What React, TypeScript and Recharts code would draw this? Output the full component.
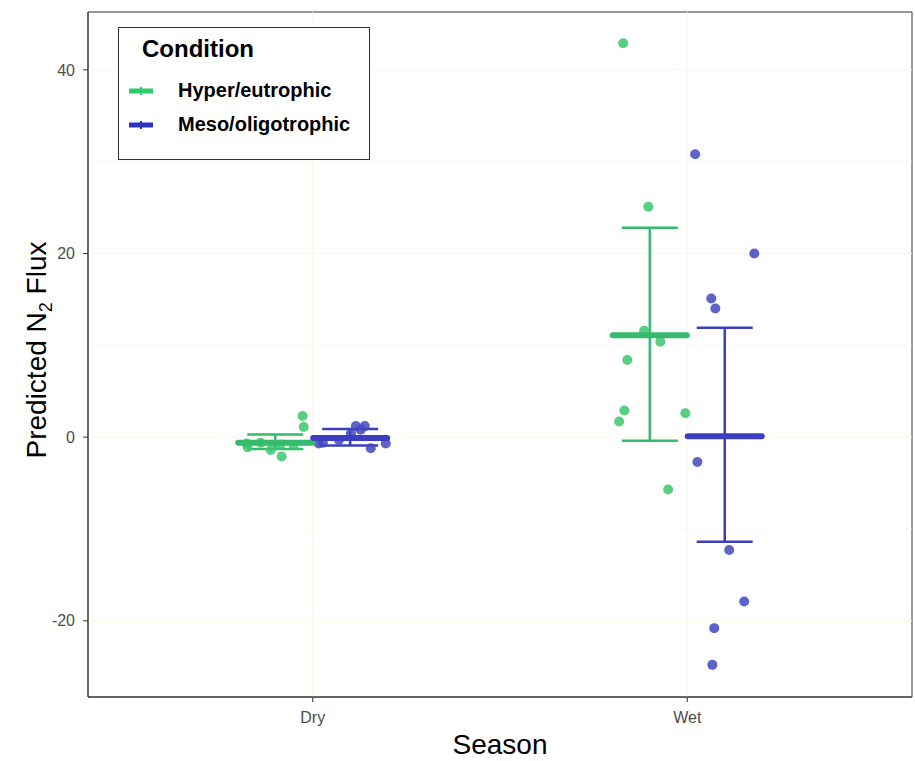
import { ComposedChart, ErrorBar, Label, ReferenceArea, ReferenceLine, Scatter, XAxis, YAxis } from 'recharts'

const seasons = ['Dry', 'Wet']
const yTicks = [-20, 0, 20, 40]
const gridValues = [-20, -10, 0, 10, 20, 30, 40]

// jittered points, Dry group first then Wet
const hyperPointX = [0.973, 0.976, 0.826, 0.824, 0.888, 0.917, 0.914, 0.861, 0.949, 1.829, 1.896, 1.885, 1.928, 1.84, 1.832, 1.818, 1.995, 1.949]
const hyperPointY = [2.3, 1.1, -1.1, -0.7, -1.4, -2.1, -0.8, -0.6, -0.9, 42.9, 25.1, 11.6, 10.4, 8.4, 2.9, 1.7, 2.6, -5.7]
const mesoPointX = [1.115, 1.139, 1.128, 1.016, 1.027, 1.155, 1.195, 1.102, 1.07, 2.021, 2.179, 2.064, 2.075, 2.027, 2.112, 2.152, 2.072, 2.067]
const mesoPointY = [1.2, 1.2, 0.8, -0.7, -0.6, -1.2, -0.7, 0.4, -0.3, 30.8, 20.0, 15.1, 14.0, -2.7, -12.3, -17.9, -20.8, -24.8]

// group means with error bar limits
const hyperMeanX = [0.9, 1.9]
const hyperMean = [-0.6, 11.1]
const hyperLow = [-1.3, -0.4]
const hyperHigh = [0.3, 22.8]
const mesoMeanX = [1.1, 2.1]
const mesoMean = [-0.1, 0.1]
const mesoLow = [-0.9, -11.4]
const mesoHigh = [0.9, 11.9]

const conditions = ['Hyper/eutrophic', 'Meso/oligotrophic']

const GREEN = '#36BA6E'
const BLUE = '#3B3EC0'
const FONT = 'Liberation Sans, Arial, sans-serif'

const points = (xs: number[], ys: number[]) => xs.map((x, i) => ({ x, y: ys[i] }))
const summary = (xs: number[], m: number[], lo: number[], hi: number[]) =>
  xs.map((x, i) => ({ x, y: m[i], err: [m[i] - lo[i], hi[i] - m[i]] }))

const hyperPoints = points(hyperPointX, hyperPointY)
const mesoPoints = points(mesoPointX, mesoPointY)
const hyperSummary = summary(hyperMeanX, hyperMean, hyperLow, hyperHigh)
const mesoSummary = summary(mesoMeanX, mesoMean, mesoLow, mesoHigh)

const dot = (fill: string) => (p: any) => (
  <circle cx={p.cx} cy={p.cy} r={5} fill={fill} fillOpacity={0.85} />
)
const crossbar = (stroke: string) => (p: any) => (
  <line x1={p.cx - 37} x2={p.cx + 37} y1={p.cy} y2={p.cy} stroke={stroke} strokeWidth={6} strokeLinecap="round" />
)

function Legend() {
  const keyColors = ['#2DCB6C', '#2C34C6']
  return (
    <svg width={252} height={133} style={{ position: 'absolute', left: 118, top: 27, fontFamily: FONT }}>
      <rect x={0.5} y={0.5} width={251} height={132} fill="#fff" stroke="#333" />
      <text x={24} y={30} fontSize={24} fontWeight="bold" fill="#000">Condition</text>
      {conditions.map((c, i) => {
        const y = 64 + i * 34
        return (
          <g key={c}>
            <line x1={11} x2={35} y1={y} y2={y} stroke={keyColors[i]} strokeWidth={5} />
            <line x1={23} x2={23} y1={y - 4} y2={y + 4} stroke={keyColors[i]} strokeWidth={2} />
            <text x={60} y={y + 6} fontSize={20} fontWeight="bold" fill="#000">{c}</text>
          </g>
        )
      })}
    </svg>
  )
}

export default function App() {
  return (
    <div style={{ position: 'absolute', left: 0, top: 0, width: 915, height: 761, background: '#fff', fontFamily: FONT }}>
      <ComposedChart width={915} height={761} margin={{ top: 12, right: 3, bottom: 0, left: 0 }}>
        <XAxis
          type="number"
          dataKey="x"
          domain={[0.4, 2.6]}
          ticks={[1, 2]}
          tickFormatter={(v: number) => seasons[v - 1]}
          allowDataOverflow
          height={64}
          tickSize={5}
          tickMargin={10}
          tick={{ fill: '#4D4D4D', fontSize: 16 }}
          axisLine={{ stroke: '#333' }}
          tickLine={{ stroke: '#333' }}
        >
          <Label
            content={() => (
              <text x={500} y={754} textAnchor="middle" fontSize={28} fill="#000">Season</text>
            )}
          />
        </XAxis>
        <YAxis
          type="number"
          dataKey="y"
          domain={[-28.3, 46.3]}
          ticks={yTicks}
          allowDataOverflow
          width={88}
          tickSize={5}
          tickMargin={8}
          tick={{ fill: '#4D4D4D', fontSize: 16 }}
          axisLine={{ stroke: '#333' }}
          tickLine={{ stroke: '#333' }}
        >
          <Label
            content={() => {
              const cx = 46
              const cy = 350
              return (
                <text x={cx} y={cy} transform={`rotate(-90 ${cx} ${cy})`} textAnchor="middle" fontSize={28} fill="#000">
                  Predicted N<tspan fontSize={18} dy={6}>2</tspan><tspan dy={-6}> Flux</tspan>
                </text>
              )
            }}
          />
        </YAxis>
        {gridValues.map((v) => (
          <ReferenceLine key={'h' + v} y={v} stroke="#FBF7DE" strokeWidth={v % 20 === 0 ? 1 : 0.6} />
        ))}
        {[1, 2].map((v) => (
          <ReferenceLine key={'v' + v} x={v} stroke="#FBF7DE" />
        ))}
        <Scatter data={hyperPoints} shape={dot('#3CC76C')} isAnimationActive={false} />
        <Scatter data={mesoPoints} shape={dot('#4246C0')} isAnimationActive={false} />
        <Scatter data={hyperSummary} shape={crossbar(GREEN)} isAnimationActive={false}>
          <ErrorBar dataKey="err" direction="y" width={28} stroke={GREEN} strokeWidth={2.5} isAnimationActive={false} />
        </Scatter>
        <Scatter data={mesoSummary} shape={crossbar(BLUE)} isAnimationActive={false}>
          <ErrorBar dataKey="err" direction="y" width={28} stroke={BLUE} strokeWidth={2.5} isAnimationActive={false} />
        </Scatter>
        <ReferenceArea x1={0.4} x2={2.6} y1={-28.3} y2={46.3} fill="none" stroke="#333" strokeWidth={1} fillOpacity={0} />
      </ComposedChart>
      <Legend />
    </div>
  )
}
